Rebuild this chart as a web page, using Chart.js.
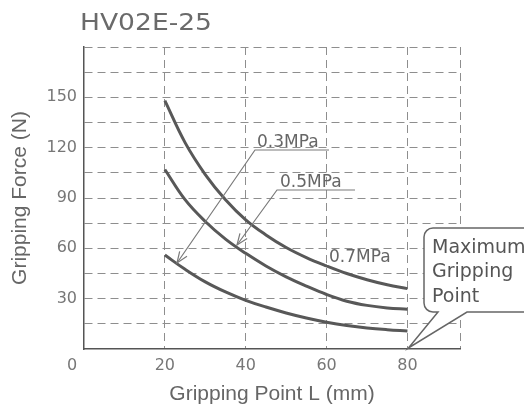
<!DOCTYPE html>
<html><head><meta charset="utf-8">
<script src="https://cdn.jsdelivr.net/npm/chart.js@4.4.1/dist/chart.umd.min.js"></script>
<style>html,body{margin:0;padding:0;background:#fff;}#wrap{width:524px;height:410px;}</style>
</head><body><div id="wrap"><canvas id="c" width="524" height="410"></canvas></div>
<script>
const chartTitle = 'HV02E-25';
const xTitle = 'Gripping Point L (mm)';
const yTitle = 'Gripping Force (N)';
const gripPoints = [20, 25, 30, 35, 40, 45, 50, 55, 60, 65, 70, 75, 80];
const force03 = [56, 47.5, 40, 34, 29, 25, 21.5, 18.5, 16, 14, 12.5, 11.5, 10.8];
const force05 = [107, 89, 76, 65.5, 57, 49.5, 43, 37.5, 32.5, 28.5, 26, 24.5, 23.7];
const force07 = [148, 123, 104, 89, 77, 68, 60.5, 54.5, 49.5, 45, 41.3, 38.3, 36];
const seriesNames = ['0.3MPa', '0.5MPa', '0.7MPa'];
const xTickLabels = [20, 40, 60, 80];
const yTickLabels = [30, 60, 90, 120, 150];
const originLabel = '0';
const calloutLines = ['Maximum', 'Gripping', 'Point'];
const xMax = 93, yMax = 180, yStep = 15;

const toPts = arr => gripPoints.map((x, i) => ({x: x, y: arr[i]}));
const lineColor = '#585858';
const gridColor = '#8e8e8e';
const tickFont = {family: 'DejaVu Sans', size: 16};
const titleFont = {family: 'Liberation Sans', size: 21};

function arrowLine(ctx, pts) {
  ctx.beginPath();
  ctx.moveTo(pts[0][0], pts[0][1]);
  for (let i = 1; i < pts.length; i++) ctx.lineTo(pts[i][0], pts[i][1]);
  ctx.stroke();
  const a = pts[pts.length - 2], b = pts[pts.length - 1];
  const ang = Math.atan2(b[1] - a[1], b[0] - a[0]);
  const L = 12, sp = 0.38;
  ctx.beginPath();
  ctx.moveTo(b[0] - L * Math.cos(ang - sp), b[1] - L * Math.sin(ang - sp));
  ctx.lineTo(b[0], b[1]);
  ctx.lineTo(b[0] - L * Math.cos(ang + sp), b[1] - L * Math.sin(ang + sp));
  ctx.stroke();
}

const annot = {
  id: 'annot',
  afterDatasetsDraw(chart) {
    const ctx = chart.ctx;
    const xs = chart.scales.x, ys = chart.scales.y;
    ctx.save();
    ctx.strokeStyle = '#7a7a7a';
    ctx.lineWidth = 1.2;
    arrowLine(ctx, [[329, 150], [255, 150], [177, 263]]);
    arrowLine(ctx, [[355, 190], [277, 190], [237, 245]]);
    ctx.font = '17px "DejaVu Sans"';
    ctx.textBaseline = 'alphabetic';
    ctx.textAlign = 'left';
    ctx.fillStyle = '#fff';
    ctx.fillRect(327, 249, 66, 16);
    ctx.fillStyle = '#666';
    ctx.fillText(seriesNames[0], 257, 147);
    ctx.fillText(seriesNames[1], 280, 187);
    ctx.fillText(seriesNames[2], 329, 262);
    const tipX = xs.getPixelForValue(80), tipY = ys.getPixelForValue(0);
    const L = 424, T = 228, B = 312, R = 560, r = 9;
    ctx.beginPath();
    ctx.moveTo(R, T);
    ctx.lineTo(L + r, T);
    ctx.arcTo(L, T, L, T + r, r);
    ctx.lineTo(L, B - r);
    ctx.arcTo(L, B, L + r, B, r);
    ctx.lineTo(438, B);
    ctx.lineTo(tipX + 1, tipY - 1);
    ctx.lineTo(467, B);
    ctx.lineTo(R, B);
    ctx.closePath();
    ctx.fillStyle = '#fff';
    ctx.fill();
    ctx.strokeStyle = '#666';
    ctx.lineWidth = 1.5;
    ctx.stroke();
    ctx.fillStyle = '#555';
    ctx.font = '19px "DejaVu Sans"';
    ctx.fillText(calloutLines[0], 432, 253);
    ctx.fillText(calloutLines[1], 432, 277);
    ctx.fillText(calloutLines[2], 432, 302);
    ctx.fillStyle = '#777';
    ctx.font = '16px "DejaVu Sans"';
    ctx.textAlign = 'center';
    ctx.textBaseline = 'middle';
    ctx.fillText(originLabel, 72, 366);
    ctx.font = '23px "DejaVu Sans"';
    ctx.textAlign = 'left';
    ctx.textBaseline = 'alphabetic';
    const w = ctx.measureText(chartTitle).width;
    ctx.translate(80, 30);
    ctx.scale(132 / w, 1);
    ctx.fillStyle = '#6a6a6a';
    ctx.fillText(chartTitle, 0, 0);
    ctx.restore();
  }
};

const dsBase = {borderColor: lineColor, borderWidth: 3, pointRadius: 0, fill: false, tension: 0.4};
new Chart(document.getElementById('c'), {
  type: 'line',
  data: {
    datasets: [
      Object.assign({label: seriesNames[0], data: toPts(force03)}, dsBase),
      Object.assign({label: seriesNames[1], data: toPts(force05)}, dsBase),
      Object.assign({label: seriesNames[2], data: toPts(force07)}, dsBase)
    ]
  },
  options: {
    responsive: false,
    devicePixelRatio: 1,
    animation: false,
    layout: {padding: {left: 0, right: 64, top: 47, bottom: 0}},
    plugins: {legend: {display: false}, tooltip: {enabled: false}, title: {display: false}},
    scales: {
      x: {
        type: 'linear', min: 0, max: xMax,
        afterBuildTicks: s => { s.ticks = [0].concat(xTickLabels, [xMax]).map(v => ({value: v})); },
        afterFit: s => { s.height = 61; },
        ticks: {
          autoSkip: false, maxRotation: 0, padding: 7, font: tickFont, color: '#777',
          callback: v => xTickLabels.includes(v) ? String(v) : ''
        },
        grid: {
          drawTicks: false, lineWidth: 1,
          color: c => (c.tick && c.tick.value === 0) ? 'rgba(0,0,0,0)' : gridColor
        },
        border: {display: true, color: '#555', width: 1.5, dash: [8, 5]},
        title: {display: true, text: xTitle, font: titleFont, color: '#666', padding: {top: 0, bottom: 3}}
      },
      y: {
        type: 'linear', min: 0, max: yMax,
        afterFit: s => { s.width = 84; },
        ticks: {
          stepSize: yStep, autoSkip: false, padding: 7, font: tickFont, color: '#777',
          callback: v => yTickLabels.includes(v) ? String(v) : ''
        },
        grid: {
          drawTicks: false, lineWidth: 1,
          color: c => (c.tick && c.tick.value === 0) ? 'rgba(0,0,0,0)' : gridColor
        },
        border: {display: true, color: '#555', width: 1.5, dash: [8, 5]},
        title: {display: true, text: yTitle, font: titleFont, color: '#666', padding: {top: 8, bottom: 0}}
      }
    }
  },
  plugins: [annot]
});
</script></body></html>
